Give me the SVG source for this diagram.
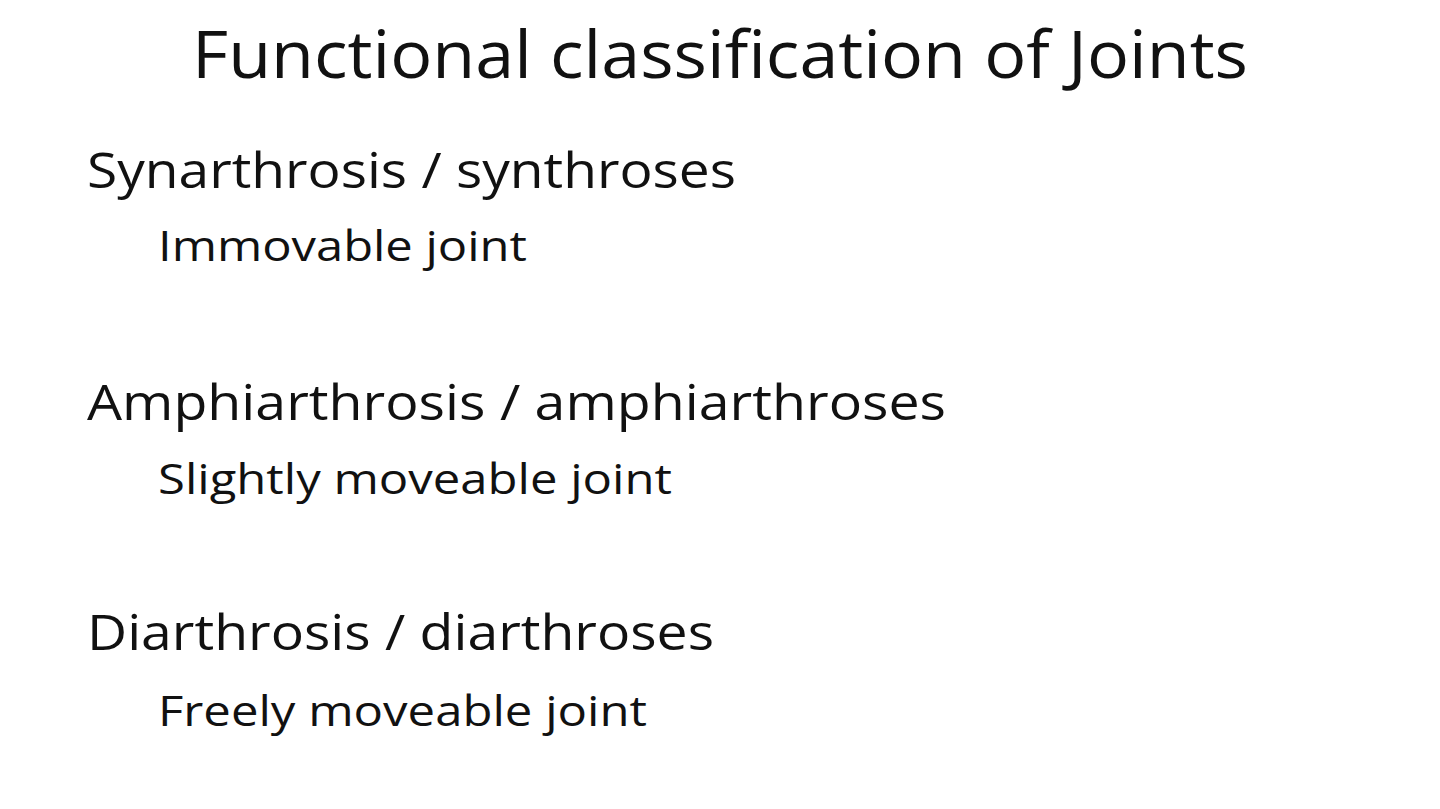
<svg xmlns="http://www.w3.org/2000/svg" width="1440" height="809" viewBox="0 0 1440 809">
<style>
text{font-family:"Open Sans","Noto Sans",sans-serif;fill:#111}
.t{font-size:66px}
.h{font-size:50px}
.s{font-size:42px}
</style>
<rect width="1440" height="809" fill="#fff"/>
<g id="title"><text class="t" x="192" y="78" textLength="1056" lengthAdjust="spacingAndGlyphs">Functional classification of Joints</text></g>
<g id="syn">
<text class="h" x="87" y="188" textLength="649" lengthAdjust="spacingAndGlyphs">Synarthrosis / synthroses</text>
<text class="s" x="158" y="261" textLength="369" lengthAdjust="spacingAndGlyphs">Immovable joint</text>
</g>
<g id="amp">
<text class="h" x="87" y="420" textLength="859" lengthAdjust="spacingAndGlyphs">Amphiarthrosis / amphiarthroses</text>
<text class="s" x="158" y="494" textLength="514" lengthAdjust="spacingAndGlyphs">Slightly moveable joint</text>
</g>
<g id="dia">
<text class="h" x="87" y="650" textLength="627" lengthAdjust="spacingAndGlyphs">Diarthrosis / diarthroses</text>
<text class="s" x="158" y="726" textLength="489" lengthAdjust="spacingAndGlyphs">Freely moveable joint</text>
</g>
</svg>
